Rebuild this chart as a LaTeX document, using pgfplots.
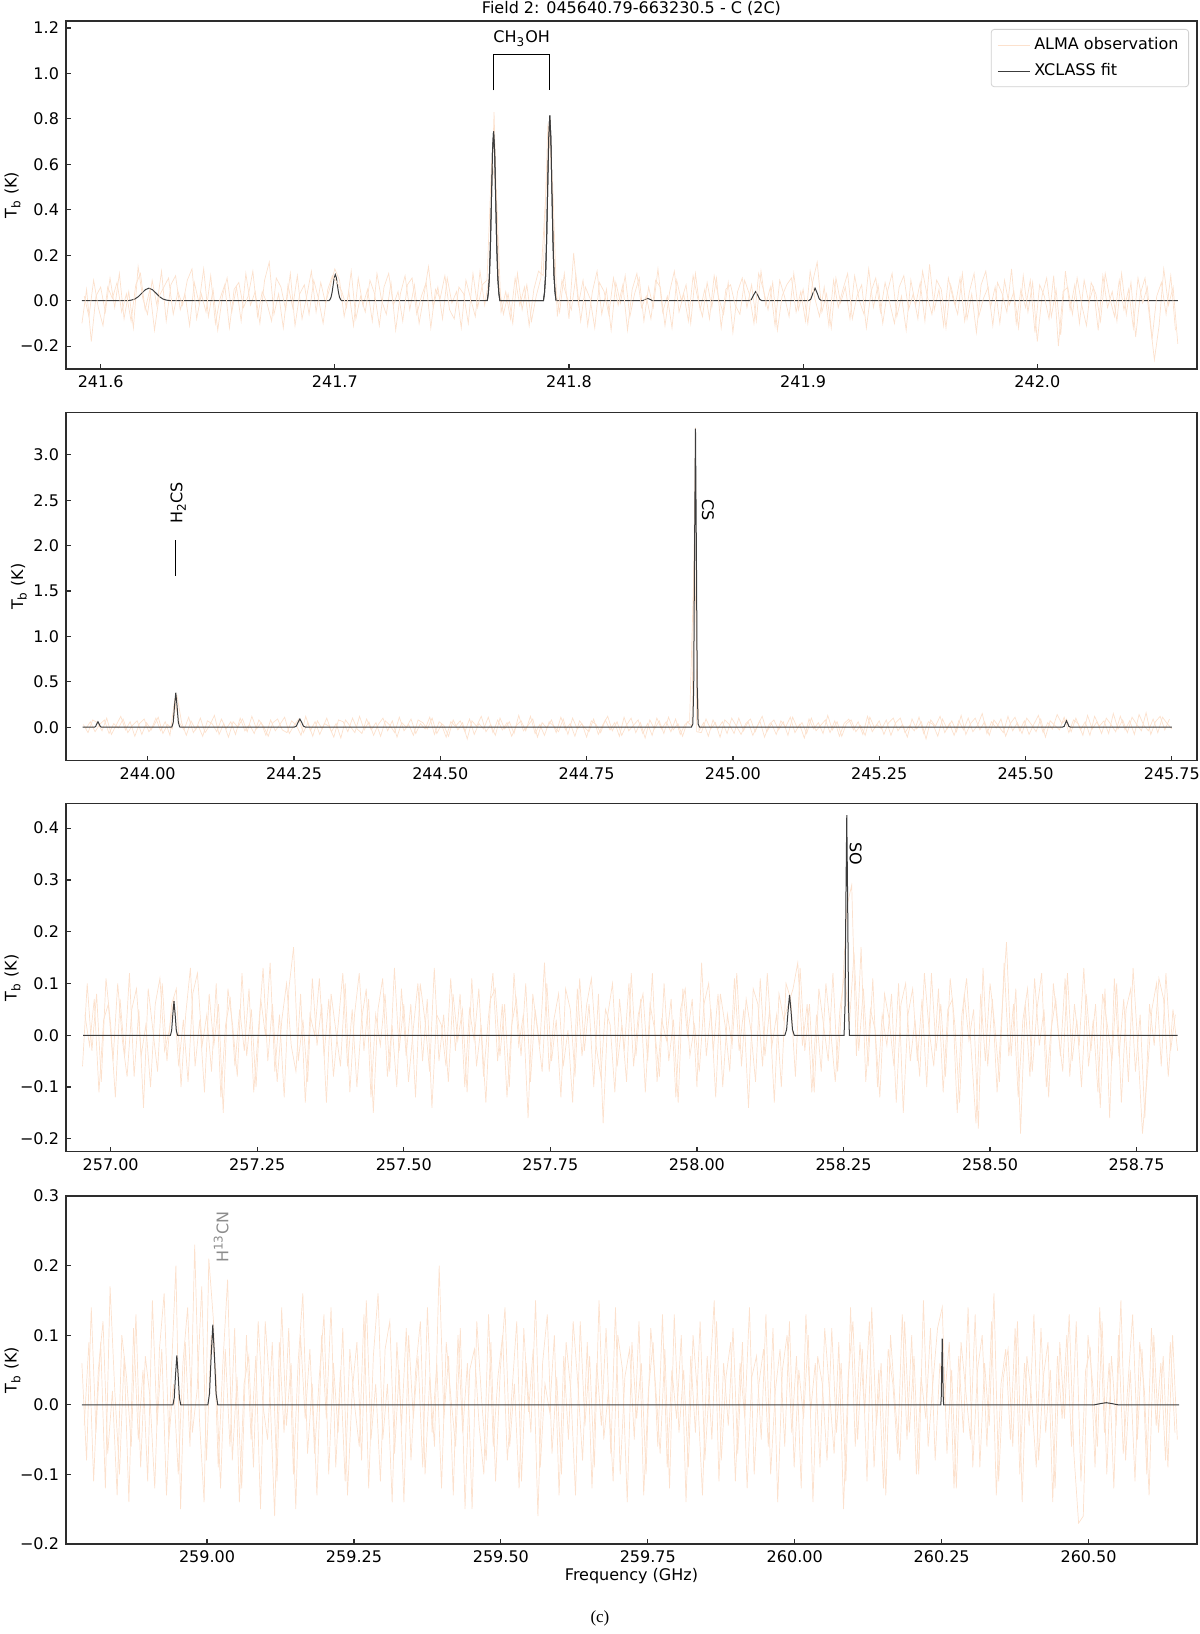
\documentclass[border=0pt]{standalone}
\usepackage{pgfplots}
\pgfplotsset{compat=1.18}
\usepackage{fontspec}
\setmainfont{DejaVu Sans}
\newfontfamily\capfont{Liberation Serif}
\definecolor{obs}{RGB}{252,225,205}
\definecolor{fitc}{RGB}{60,60,60}
\definecolor{axc}{RGB}{45,45,45}
\newcommand{\fs}{\fontsize{8}{9.6}\selectfont}
\pgfplotsset{
  spec/.style={
    scale only axis, width=565.5pt, height=174pt,
    axis line style={axc, line width=0.6pt},
    tick align=inside, tick pos=left,
    major tick length=2.5pt,
    tick style={axc, line width=0.6pt},
    tick label style={font=\fs},
    label style={font=\fs},
    ylabel={T\textsubscript{b} (K)},
    ylabel style={at={(axis description cs:-0.0473,0.5)}, anchor=center},
    clip mode=individual,
  },
  obsline/.style={obs, line width=0.35pt},
  fitline/.style={fitc, line width=0.5pt},
}
\begin{document}
\begin{tikzpicture}
\path[use as bounding box] (0,0) rectangle (600pt,817pt);

% ---------------- Panel 1 ----------------
\begin{axis}[spec, at={(33pt,632.5pt)}, anchor=south west,
  xmin=-14.8, xmax=468.2, ymin=-0.3005, ymax=1.2308,
  xtick={0,100,200,300,400}, xticklabels={241.6,241.7,241.8,241.9,242.0},
  ytick={-0.2,0,0.2,0.4,0.6,0.8,1.0,1.2},
  yticklabels={−0.2,0.0,0.2,0.4,0.6,0.8,1.0,1.2},
  title={Field 2: 045640.79-663230.5 - C (2C)},
  every axis title/.style={at={(axis description cs:0.5,1.036)}, anchor=center, font=\fs},
  legend style={at={(axis description cs:1,1)}, anchor=north east, xshift=-4pt, yshift=-4pt,
    draw=black!18, rounded corners=1.5pt, font=\fs, inner xsep=3pt, inner ysep=2pt,
    row sep=1.5pt},
  legend cell align=left,
  legend image code/.code={\draw[#1] (0pt,0pt) -- (16pt,0pt);},
]
\addplot[obsline] table[row sep=\\] {x y\\
-8 -0.10\\ -6 0.05\\ -4 -0.18\\ -2 0.02\\ 0 0.06\\ 2 -0.05\\ 4 0.10\\ 6 -0.03\\ 8 0.12\\ 10 -0.08\\
12 0.04\\ 14 -0.12\\ 16 0.15\\ 18 0.01\\ 20 -0.06\\ 22 0.09\\ 24 -0.02\\ 26 0.13\\ 28 -0.09\\ 30 0.07\\
32 0.11\\ 34 -0.04\\ 36 0.03\\ 38 -0.11\\ 40 0.08\\ 42 -0.01\\ 44 0.14\\ 46 -0.07\\ 48 0.05\\ 50 -0.13\\
52 0.02\\ 54 0.10\\ 56 -0.05\\ 58 0.06\\ 60 -0.09\\ 62 0.12\\ 64 -0.02\\ 66 0.04\\ 68 -0.10\\ 70 0.09\\
72 0.17\\ 74 -0.06\\ 76 0.03\\ 78 -0.12\\ 80 0.07\\ 82 -0.03\\ 84 0.11\\ 86 -0.08\\ 88 0.02\\ 90 0.13\\
92 -0.05\\ 94 0.08\\ 96 -0.01\\ 98 0.06\\ 100 0.14\\ 102 0.09\\ 104 -0.07\\ 106 0.04\\ 108 -0.11\\ 110 0.10\\
112 -0.02\\ 114 0.05\\ 116 -0.09\\ 118 0.12\\ 120 0.00\\ 122 -0.06\\ 124 0.08\\ 126 -0.13\\ 128 0.03\\ 130 0.11\\
132 -0.04\\ 134 0.07\\ 136 -0.10\\ 138 0.02\\ 140 0.15\\ 142 -0.03\\ 144 0.06\\ 146 -0.08\\ 148 0.10\\ 150 -0.01\\
152 0.04\\ 154 -0.12\\ 156 0.09\\ 158 0.01\\ 160 -0.07\\ 162 0.13\\ 164 -0.02\\ 166 0.11\\ 168 0.83\\ 170 0.08\\
172 -0.06\\ 174 0.03\\ 176 -0.10\\ 178 0.12\\ 180 -0.04\\ 182 0.07\\ 184 -0.09\\ 186 0.02\\ 188 0.10\\ 190 0.45\\
192 0.80\\ 194 0.06\\ 196 -0.05\\ 198 0.12\\ 200 -0.08\\ 202 0.21\\ 204 -0.02\\ 206 0.09\\ 208 -0.11\\ 210 0.04\\
212 0.13\\ 214 -0.06\\ 216 0.05\\ 218 -0.13\\ 220 0.08\\ 222 -0.01\\ 224 0.11\\ 226 -0.07\\ 228 0.03\\ 230 0.10\\
232 -0.09\\ 234 0.06\\ 236 -0.03\\ 238 0.14\\ 240 -0.05\\ 242 0.02\\ 244 -0.12\\ 246 0.09\\ 248 0.00\\ 250 0.07\\
252 -0.10\\ 254 0.12\\ 256 -0.04\\ 258 0.05\\ 260 -0.08\\ 262 0.11\\ 264 0.01\\ 266 -0.06\\ 268 0.08\\ 270 -0.14\\
272 0.04\\ 274 0.10\\ 276 -0.03\\ 278 0.07\\ 280 -0.09\\ 282 0.13\\ 284 -0.02\\ 286 0.06\\ 288 -0.11\\ 290 0.09\\
292 0.02\\ 294 -0.07\\ 296 0.12\\ 298 -0.04\\ 300 0.05\\ 302 -0.10\\ 304 0.08\\ 306 0.17\\ 308 -0.05\\ 310 0.03\\
312 -0.12\\ 314 0.10\\ 316 -0.01\\ 318 0.06\\ 320 -0.08\\ 322 0.11\\ 324 0.00\\ 326 -0.06\\ 328 0.14\\ 330 -0.03\\
332 0.07\\ 334 -0.10\\ 336 0.04\\ 338 0.12\\ 340 -0.07\\ 342 0.02\\ 344 -0.13\\ 346 0.09\\ 348 -0.02\\ 350 0.08\\
352 -0.09\\ 354 0.16\\ 356 -0.04\\ 358 0.05\\ 360 -0.11\\ 362 0.10\\ 364 0.01\\ 366 -0.06\\ 368 0.12\\ 370 -0.08\\
372 0.03\\ 374 -0.14\\ 376 0.07\\ 378 0.13\\ 380 -0.03\\ 382 0.06\\ 384 -0.10\\ 386 0.09\\ 388 -0.02\\ 390 0.04\\
392 -0.12\\ 394 0.11\\ 396 -0.05\\ 398 0.08\\ 400 -0.18\\ 402 0.02\\ 404 0.10\\ 406 -0.07\\ 408 0.05\\ 410 -0.15\\
412 0.13\\ 414 -0.04\\ 416 0.07\\ 418 -0.10\\ 420 0.09\\ 422 -0.01\\ 424 0.06\\ 426 -0.13\\ 428 0.11\\ 430 -0.03\\
432 0.04\\ 434 -0.09\\ 436 0.12\\ 438 -0.06\\ 440 0.08\\ 442 -0.16\\ 444 0.03\\ 446 0.10\\ 448 -0.08\\ 450 -0.26\\
452 -0.11\\ 454 0.14\\ 456 -0.02\\ 458 0.06\\ 460 -0.19\\
};
\addlegendentry{ALMA observation}
\addplot[fitline] table[row sep=\\] {x y\\
-8 0\\ 11.6 0\\ 13.1 0.0024\\ 14.6 0.0074\\ 16.1 0.0179\\ 17.6 0.0334\\ 19.1 0.0485\\ 20.6 0.055\\ 22.1 0.0485\\ 23.6 0.0334\\ 25.1 0.0179\\ 26.6 0.0074\\ 28.1 0.0024\\ 29.6 0.0006\\ 32 0\\
97.5 0\\ 97.95 0.0051\\ 98.4 0.0155\\ 98.85 0.0374\\ 99.3 0.0698\\ 99.75 0.1014\\ 100.2 0.115\\ 100.65 0.1014\\ 101.1 0.0698\\ 101.55 0.0374\\ 102.0 0.0155\\ 102.45 0.0051\\ 102.9 0\\
165.1 0\\ 165.55 0.0328\\ 166.0 0.1006\\ 166.45 0.2421\\ 166.9 0.4522\\ 167.35 0.6571\\ 167.8 0.745\\ 168.25 0.6571\\ 168.7 0.4522\\ 169.15 0.2421\\ 169.6 0.1006\\ 170.05 0.0328\\ 170.5 0\\
189.1 0\\ 189.55 0.0359\\ 190.0 0.1100\\ 190.45 0.2649\\ 190.9 0.4947\\ 191.35 0.7188\\ 191.8 0.815\\ 192.25 0.7188\\ 192.7 0.4947\\ 193.15 0.2649\\ 193.6 0.1100\\ 194.05 0.0359\\ 194.5 0\\
231.6 0\\ 232.6 0.006\\ 233.6 0.010\\ 234.6 0.006\\ 235.6 0\\
277.0 0\\ 277.9 0.0054\\ 278.8 0.0243\\ 279.7 0.040\\ 280.6 0.0243\\ 281.5 0.0054\\ 282.4 0\\
302.4 0\\ 303.3 0.0074\\ 304.2 0.0334\\ 305.1 0.055\\ 306.0 0.0334\\ 306.9 0.0074\\ 307.8 0\\
460 0\\
};
\addlegendentry{XCLASS fit}
\addplot[obsline, forget plot] table[row sep=\\] {x y\\
-7 0.02\\ -5 -0.07\\ -3 0.09\\ -1 -0.03\\ 1 -0.11\\ 3 0.06\\ 5 0.01\\ 7 0.08\\ 9 -0.05\\ 11 0.03\\
13 -0.09\\ 15 0.07\\ 17 0.12\\ 19 -0.04\\ 21 0.05\\ 23 -0.13\\ 25 0.02\\ 27 0.06\\ 29 0.10\\ 31 -0.06\\
33 0.04\\ 35 -0.02\\ 37 0.09\\ 39 0.14\\ 41 -0.08\\ 43 0.03\\ 45 -0.05\\ 47 0.11\\ 49 -0.10\\ 51 0.01\\
53 0.07\\ 55 -0.12\\ 57 0.05\\ 59 0.08\\ 61 -0.03\\ 63 0.02\\ 65 0.13\\ 67 -0.07\\ 69 0.04\\ 71 -0.01\\
73 -0.09\\ 75 0.10\\ 77 0.06\\ 79 -0.04\\ 81 0.12\\ 83 -0.11\\ 85 0.03\\ 87 0.07\\ 89 -0.06\\ 91 0.09\\
93 0.01\\ 95 -0.10\\ 97 0.05\\ 99 0.11\\ 101 0.08\\ 103 0.04\\ 105 -0.03\\ 107 0.13\\ 109 -0.08\\ 111 0.02\\
113 -0.05\\ 115 0.09\\ 117 0.03\\ 119 -0.11\\ 121 0.06\\ 123 0.12\\ 125 -0.02\\ 127 0.04\\ 129 -0.09\\ 131 0.07\\
133 0.10\\ 135 -0.06\\ 137 0.02\\ 139 0.08\\ 141 -0.12\\ 143 0.05\\ 145 0.01\\ 147 0.11\\ 149 -0.04\\ 151 -0.08\\
153 0.06\\ 155 0.03\\ 157 -0.10\\ 159 0.12\\ 161 -0.03\\ 163 0.07\\ 165 0.09\\ 167 0.62\\ 169 0.48\\ 171 -0.05\\
173 0.04\\ 175 -0.08\\ 177 0.10\\ 179 -0.02\\ 181 0.06\\ 183 -0.11\\ 185 0.05\\ 187 0.13\\ 189 0.11\\ 191 0.78\\
193 0.52\\ 195 -0.07\\ 197 0.09\\ 199 0.02\\ 201 -0.04\\ 203 0.11\\ 205 -0.09\\ 207 0.06\\ 209 0.01\\ 211 -0.12\\
213 0.08\\ 215 0.04\\ 217 -0.06\\ 219 0.10\\ 221 -0.02\\ 223 0.07\\ 225 -0.13\\ 227 0.05\\ 229 0.12\\ 231 -0.03\\
233 0.02\\ 235 -0.08\\ 237 0.09\\ 239 0.06\\ 241 -0.11\\ 243 0.04\\ 245 0.13\\ 247 -0.05\\ 249 0.03\\ 251 -0.09\\
253 0.11\\ 255 0.01\\ 257 -0.07\\ 259 0.08\\ 261 -0.03\\ 263 0.10\\ 265 -0.12\\ 267 0.05\\ 269 0.07\\ 271 -0.02\\
273 -0.06\\ 275 0.09\\ 277 0.03\\ 279 -0.10\\ 281 0.12\\ 283 0.05\\ 285 -0.04\\ 287 0.08\\ 289 -0.13\\ 291 0.02\\
293 0.07\\ 295 0.10\\ 297 -0.05\\ 299 0.04\\ 301 -0.09\\ 303 0.13\\ 305 0.01\\ 307 -0.07\\ 309 0.06\\ 311 -0.11\\
313 0.09\\ 315 -0.03\\ 317 0.05\\ 319 0.12\\ 321 -0.08\\ 323 0.02\\ 325 0.07\\ 327 -0.12\\ 329 0.04\\ 331 0.10\\
333 -0.05\\ 335 0.08\\ 337 -0.01\\ 339 -0.10\\ 341 0.06\\ 343 0.11\\ 345 -0.04\\ 347 0.03\\ 349 -0.08\\ 351 0.13\\
353 0.02\\ 355 -0.06\\ 357 0.09\\ 359 0.05\\ 361 -0.12\\ 363 0.07\\ 365 -0.02\\ 367 0.10\\ 369 -0.09\\ 371 0.04\\
373 0.12\\ 375 -0.07\\ 377 0.01\\ 379 0.06\\ 381 -0.11\\ 383 0.08\\ 385 0.03\\ 387 -0.05\\ 389 0.14\\ 391 -0.10\\
393 0.05\\ 395 -0.03\\ 397 0.09\\ 399 -0.14\\ 401 0.07\\ 403 0.02\\ 405 -0.08\\ 407 0.11\\ 409 -0.20\\ 411 0.04\\
413 0.06\\ 415 -0.06\\ 417 0.10\\ 419 -0.02\\ 421 -0.11\\ 423 0.08\\ 425 0.03\\ 427 -0.09\\ 429 0.12\\ 431 0.01\\
433 -0.07\\ 435 0.09\\ 437 -0.04\\ 439 0.05\\ 441 -0.12\\ 443 0.10\\ 445 -0.01\\ 447 0.06\\ 449 -0.17\\ 451 0.02\\
453 0.08\\ 455 -0.06\\ 457 0.11\\ 459 -0.13\\
};
\addplot[fitline, forget plot] table[row sep=\\] {x y\\
165.1 0\\ 165.55 0.0328\\ 166.0 0.1006\\ 166.45 0.2421\\ 166.9 0.4522\\ 167.35 0.6571\\ 167.8 0.745\\ 168.25 0.6571\\ 168.7 0.4522\\ 169.15 0.2421\\ 169.6 0.1006\\ 170.05 0.0328\\ 170.5 0\\
189.1 0\\ 189.55 0.0359\\ 190.0 0.1100\\ 190.45 0.2649\\ 190.9 0.4947\\ 191.35 0.7188\\ 191.8 0.815\\ 192.25 0.7188\\ 192.7 0.4947\\ 193.15 0.2649\\ 193.6 0.1100\\ 194.05 0.0359\\ 194.5 0\\
};
\addplot[black, line width=0.5pt, forget plot] coordinates {(167.8,0.925) (167.8,1.082) (191.8,1.082) (191.8,0.925)};
\node[font=\fs, anchor=center] at (axis cs:179.8,1.153) {CH\textsubscript{3}OH};
\end{axis}

% ---------------- Panel 2 ----------------
\begin{axis}[spec, at={(33pt,436.7pt)}, anchor=south west,
  xmin=-139.6, xmax=1793, ymin=-0.368, ymax=3.466,
  xtick={0,250,500,750,1000,1250,1500,1750},
  xticklabels={244.00,244.25,244.50,244.75,245.00,245.25,245.50,245.75},
  ytick={0,0.5,1,1.5,2,2.5,3},
  yticklabels={0.0,0.5,1.0,1.5,2.0,2.5,3.0},
  ylabel style={at={(axis description cs:-0.0417,0.5)}, anchor=center},
]
\addplot[obsline] table[row sep=\\] {x y\\
-110 0.03\\ -102 -0.06\\ -94 0.08\\ -86 0.05\\ -78 -0.04\\ -70 0.10\\ -62 -0.08\\ -54 0.02\\ -46 0.12\\ -38 -0.03\\
-30 0.06\\ -22 -0.10\\ -14 0.04\\ -6 0.09\\ 2 -0.05\\ 10 0.01\\ 18 0.11\\ 26 -0.07\\ 34 0.03\\ 42 -0.02\\
50 0.35\\ 58 0.05\\ 66 -0.09\\ 74 0.07\\ 82 -0.03\\ 90 0.10\\ 98 -0.06\\ 106 0.02\\ 114 0.13\\ 122 -0.08\\
130 0.04\\ 138 -0.11\\ 146 0.06\\ 154 0.00\\ 162 0.09\\ 170 -0.05\\ 178 0.12\\ 186 -0.02\\ 194 0.05\\ 202 -0.09\\
210 0.08\\ 218 -0.04\\ 226 0.03\\ 234 0.11\\ 242 -0.07\\ 250 0.02\\ 258 0.09\\ 266 -0.06\\ 274 0.05\\ 282 -0.10\\
290 0.07\\ 298 -0.02\\ 306 0.10\\ 314 -0.05\\ 322 0.04\\ 330 -0.12\\ 338 0.08\\ 346 0.01\\ 354 -0.06\\ 362 0.12\\
370 -0.03\\ 378 0.06\\ 386 -0.09\\ 394 0.03\\ 402 0.10\\ 410 -0.04\\ 418 0.07\\ 426 -0.11\\ 434 0.05\\ 442 0.00\\
450 0.09\\ 458 -0.07\\ 466 0.04\\ 474 -0.02\\ 482 0.11\\ 490 -0.08\\ 498 0.06\\ 506 0.02\\ 514 -0.10\\ 522 0.08\\
530 -0.03\\ 538 0.05\\ 546 -0.13\\ 554 0.07\\ 562 0.01\\ 570 0.12\\ 578 -0.05\\ 586 0.03\\ 594 -0.09\\ 602 0.10\\
610 -0.02\\ 618 0.06\\ 626 -0.07\\ 634 0.13\\ 642 -0.04\\ 650 0.02\\ 658 0.09\\ 666 -0.11\\ 674 0.05\\ 682 -0.01\\
690 0.08\\ 698 -0.06\\ 706 0.11\\ 714 -0.03\\ 722 0.04\\ 730 -0.10\\ 738 0.07\\ 746 0.00\\ 754 -0.05\\ 762 0.09\\
770 -0.08\\ 778 0.03\\ 786 0.12\\ 794 -0.04\\ 802 0.06\\ 810 -0.09\\ 818 0.02\\ 826 0.10\\ 834 -0.06\\ 842 0.05\\
850 -0.12\\ 858 0.08\\ 866 -0.02\\ 874 0.07\\ 882 -0.07\\ 890 0.11\\ 898 -0.03\\ 906 0.04\\ 914 -0.10\\ 922 0.06\\
930 0.01\\ 936 3.30\\ 938 -0.05\\ 946 -0.06\\ 954 0.09\\ 962 -0.02\\ 970 0.05\\ 978 -0.11\\ 986 0.08\\ 994 0.03\\ 1002 -0.07\\
1010 0.10\\ 1018 -0.04\\ 1026 0.06\\ 1034 -0.09\\ 1042 0.02\\ 1050 0.12\\ 1058 -0.05\\ 1066 0.04\\ 1074 -0.08\\ 1082 0.07\\
1090 0.00\\ 1098 0.11\\ 1106 -0.06\\ 1114 0.03\\ 1122 -0.12\\ 1130 0.09\\ 1138 -0.02\\ 1146 0.05\\ 1154 -0.07\\ 1162 0.13\\
1170 -0.03\\ 1178 0.06\\ 1186 -0.10\\ 1194 0.04\\ 1202 0.08\\ 1210 -0.05\\ 1218 0.02\\ 1226 -0.09\\ 1234 0.11\\ 1242 -0.01\\
1250 0.07\\ 1258 -0.08\\ 1266 0.05\\ 1274 0.10\\ 1282 -0.04\\ 1290 0.03\\ 1298 -0.11\\ 1306 0.09\\ 1314 -0.02\\ 1322 0.06\\
1330 -0.13\\ 1338 0.08\\ 1346 0.01\\ 1354 0.12\\ 1362 -0.06\\ 1370 0.04\\ 1378 -0.09\\ 1386 0.07\\ 1394 -0.03\\ 1402 0.10\\
1410 -0.05\\ 1418 0.02\\ 1426 0.15\\ 1434 -0.07\\ 1442 0.06\\ 1450 -0.01\\ 1458 0.09\\ 1466 -0.10\\ 1474 0.04\\ 1482 0.11\\
1490 -0.04\\ 1498 0.07\\ 1506 -0.08\\ 1514 0.03\\ 1522 0.13\\ 1530 -0.06\\ 1538 0.05\\ 1546 -0.02\\ 1554 0.14\\ 1562 0.04\\
1570 0.09\\ 1578 -0.05\\ 1586 0.10\\ 1594 -0.03\\ 1602 0.06\\ 1610 -0.09\\ 1618 0.12\\ 1626 0.01\\ 1634 0.07\\ 1642 -0.07\\
1650 0.15\\ 1658 -0.02\\ 1666 0.08\\ 1674 -0.06\\ 1682 0.11\\ 1690 0.03\\ 1698 -0.04\\ 1706 0.16\\ 1714 -0.08\\ 1722 0.06\\
1730 0.12\\ 1738 -0.03\\ 1746 0.09\\
};
\addplot[obsline] table[row sep=\\] {x y\\
-106 -0.02\\ -98 0.06\\ -90 -0.05\\ -82 0.03\\ -74 0.08\\ -66 -0.07\\ -58 0.04\\ -50 -0.01\\ -42 0.09\\ -34 -0.06\\
-26 0.02\\ -18 0.07\\ -10 -0.08\\ -2 0.05\\ 6 -0.03\\ 14 0.10\\ 22 -0.04\\ 30 0.06\\ 38 -0.09\\ 46 0.30\\
54 0.05\\ 62 -0.03\\ 70 0.11\\ 78 -0.06\\ 86 0.02\\ 94 -0.10\\ 102 0.07\\ 110 0.04\\ 118 -0.05\\ 126 0.09\\
134 -0.02\\ 142 0.06\\ 150 -0.08\\ 158 0.10\\ 166 -0.04\\ 174 0.03\\ 182 -0.07\\ 190 0.08\\ 198 0.01\\ 206 -0.10\\
214 0.05\\ 222 0.09\\ 230 -0.03\\ 238 -0.06\\ 246 0.07\\ 254 0.02\\ 262 -0.09\\ 270 0.12\\ 278 -0.04\\ 286 0.06\\
294 -0.08\\ 302 0.04\\ 310 0.01\\ 318 -0.11\\ 326 0.08\\ 334 0.06\\ 342 -0.05\\ 350 0.10\\ 358 -0.02\\ 366 -0.07\\
374 0.09\\ 382 -0.03\\ 390 0.05\\ 398 -0.10\\ 406 0.07\\ 414 0.02\\ 422 -0.06\\ 430 0.11\\ 438 -0.04\\ 446 0.03\\
454 -0.09\\ 462 0.08\\ 470 0.05\\ 478 -0.02\\ 486 0.10\\ 494 -0.07\\ 502 0.03\\ 510 -0.11\\ 518 0.06\\ 526 0.01\\
534 0.07\\ 542 -0.05\\ 550 0.09\\ 558 -0.08\\ 566 0.04\\ 574 -0.02\\ 582 0.11\\ 590 -0.06\\ 598 0.08\\ 606 -0.03\\
614 0.05\\ 622 -0.10\\ 630 0.02\\ 638 0.07\\ 646 -0.04\\ 654 0.12\\ 662 -0.07\\ 670 0.03\\ 678 -0.09\\ 686 0.06\\
694 0.01\\ 702 -0.05\\ 710 0.09\\ 718 -0.08\\ 726 0.10\\ 734 -0.02\\ 742 0.04\\ 750 -0.11\\ 758 0.07\\ 766 0.03\\
774 -0.06\\ 782 0.08\\ 790 -0.03\\ 798 0.05\\ 806 -0.10\\ 814 0.11\\ 822 -0.04\\ 830 0.02\\ 838 0.08\\ 846 -0.07\\
854 0.04\\ 862 -0.09\\ 870 0.10\\ 878 -0.02\\ 886 0.06\\ 894 -0.05\\ 902 0.09\\ 910 -0.08\\ 918 0.03\\ 926 0.07\\
934 1.90\\ 942 -0.04\\ 950 0.05\\ 958 -0.10\\ 966 0.08\\ 974 -0.02\\ 982 0.06\\ 990 -0.07\\ 998 0.10\\ 1006 0.01\\
1014 -0.08\\ 1022 0.04\\ 1030 0.09\\ 1038 -0.05\\ 1046 0.07\\ 1054 -0.11\\ 1062 0.03\\ 1070 0.08\\ 1078 -0.03\\ 1086 0.06\\
1094 -0.09\\ 1102 0.11\\ 1110 -0.01\\ 1118 0.05\\ 1126 -0.07\\ 1134 0.10\\ 1142 -0.04\\ 1150 0.02\\ 1158 0.08\\ 1166 -0.06\\
1174 0.07\\ 1182 -0.10\\ 1190 0.04\\ 1198 0.09\\ 1206 -0.03\\ 1214 0.06\\ 1222 -0.08\\ 1230 0.12\\ 1238 -0.05\\ 1246 0.03\\
1254 -0.02\\ 1262 0.08\\ 1270 -0.09\\ 1278 0.05\\ 1286 0.10\\ 1294 -0.06\\ 1302 0.02\\ 1310 -0.04\\ 1318 0.11\\ 1326 -0.07\\
1334 0.06\\ 1342 0.03\\ 1350 -0.10\\ 1358 0.09\\ 1366 -0.02\\ 1374 0.07\\ 1382 -0.05\\ 1390 0.13\\ 1398 -0.08\\ 1406 0.04\\
1414 0.10\\ 1422 -0.03\\ 1430 0.06\\ 1438 -0.09\\ 1446 0.08\\ 1454 0.01\\ 1462 -0.06\\ 1470 0.12\\ 1478 -0.04\\ 1486 0.05\\
1494 -0.07\\ 1502 0.10\\ 1510 0.03\\ 1518 -0.05\\ 1526 0.09\\ 1534 -0.11\\ 1542 0.07\\ 1550 0.02\\ 1558 -0.03\\ 1566 0.11\\
1574 -0.06\\ 1582 0.08\\ 1590 0.04\\ 1598 -0.09\\ 1606 0.13\\ 1614 -0.02\\ 1622 0.06\\ 1630 -0.07\\ 1638 0.10\\ 1646 0.03\\
1654 -0.05\\ 1662 0.12\\ 1670 -0.03\\ 1678 0.07\\ 1686 -0.08\\ 1694 0.14\\ 1702 0.02\\ 1710 -0.04\\ 1718 0.09\\ 1726 -0.06\\
1734 0.11\\ 1742 0.04\\ 1750 -0.02\\
};
\addplot[fitline] table[row sep=\\] {x y\\
-111 0\\ -91 0\\ -89 0.008\\ -87 0.036\\ -85 0.06\\ -83 0.036\\ -81 0.008\\ -79 0\\
40 0\\ 41.4 0.004\\ 43.6 0.051\\ 45.8 0.231\\ 48 0.38\\ 50.2 0.231\\ 52.4 0.051\\ 54.6 0.004\\ 56 0\\
250 0\\ 254 0.012\\ 257 0.055\\ 260 0.09\\ 263 0.055\\ 266 0.012\\ 270 0\\
929 0\\ 931.5 0.036\\ 933 0.445\\ 934.5 1.997\\ 936 3.29\\ 937.5 1.997\\ 939 0.445\\ 940.5 0.036\\ 943 0\\
1563 0\\ 1566 0.009\\ 1568 0.042\\ 1570 0.07\\ 1572 0.042\\ 1574 0.009\\ 1577 0\\
1750 0\\
};
\addplot[black, line width=0.5pt, forget plot] coordinates {(48,1.67) (48,2.06)};
\node[font=\fs, rotate=90, anchor=center] at (axis cs:52,2.47) {H\textsubscript{2}CS};
\node[font=\fs, rotate=-90, anchor=center] at (axis cs:957.5,2.39) {CS};
\end{axis}

% ---------------- Panel 3 ----------------
\begin{axis}[spec, at={(33pt,241.1pt)}, anchor=south west,
  xmin=-76.2, xmax=1853, ymin=-0.225, ymax=0.447,
  xtick={0,250,500,750,1000,1250,1500,1750},
  xticklabels={257.00,257.25,257.50,257.75,258.00,258.25,258.50,258.75},
  ytick={-0.2,-0.1,0,0.1,0.2,0.3,0.4},
  yticklabels={−0.2,−0.1,0.0,0.1,0.2,0.3,0.4},
]
\addplot[obsline] table[row sep=\\] {x y\\
-48 -0.06\\ -40 0.10\\ -32 -0.03\\ -24 0.08\\ -16 -0.09\\ -8 0.11\\ 0 0.02\\ 8 -0.12\\ 16 0.07\\ 24 -0.04\\
32 0.12\\ 40 -0.08\\ 48 0.05\\ 56 -0.14\\ 64 0.09\\ 72 0.01\\ 80 -0.07\\ 88 0.10\\ 96 -0.05\\ 104 0.06\\
112 0.09\\ 120 -0.10\\ 128 0.04\\ 136 0.13\\ 144 -0.06\\ 152 0.03\\ 160 -0.11\\ 168 0.08\\ 176 -0.02\\ 184 0.06\\
192 -0.15\\ 200 0.09\\ 208 0.02\\ 216 -0.08\\ 224 0.12\\ 232 -0.04\\ 240 0.05\\ 248 -0.10\\ 256 0.07\\ 264 0.00\\
272 0.14\\ 280 -0.07\\ 288 0.04\\ 296 -0.12\\ 304 0.09\\ 312 0.17\\ 320 -0.05\\ 328 0.03\\ 336 -0.09\\ 344 0.11\\
352 -0.02\\ 360 0.06\\ 368 -0.13\\ 376 0.08\\ 384 0.01\\ 392 -0.06\\ 400 0.10\\ 408 -0.11\\ 416 0.04\\ 424 0.12\\
432 -0.03\\ 440 0.07\\ 448 -0.15\\ 456 0.05\\ 464 0.11\\ 472 -0.08\\ 480 0.02\\ 488 -0.10\\ 496 0.09\\ 504 -0.04\\
512 0.06\\ 520 -0.12\\ 528 0.10\\ 536 0.03\\ 544 -0.07\\ 552 0.13\\ 560 -0.05\\ 568 0.04\\ 576 -0.09\\ 584 0.08\\
592 -0.01\\ 600 0.05\\ 608 -0.11\\ 616 0.11\\ 624 -0.06\\ 632 0.02\\ 640 -0.13\\ 648 0.07\\ 656 0.09\\ 664 -0.04\\
672 0.06\\ 680 -0.10\\ 688 0.12\\ 696 -0.02\\ 704 0.04\\ 712 -0.16\\ 720 0.08\\ 728 0.01\\ 736 -0.07\\ 744 0.10\\
752 -0.05\\ 760 0.03\\ 768 -0.12\\ 776 0.09\\ 784 0.05\\ 792 -0.08\\ 800 0.11\\ 808 -0.03\\ 816 0.06\\ 824 -0.10\\
832 0.08\\ 840 -0.17\\ 848 0.04\\ 856 0.10\\ 864 -0.06\\ 872 0.02\\ 880 -0.09\\ 888 0.12\\ 896 -0.04\\ 904 0.07\\
912 -0.11\\ 920 0.06\\ 928 0.01\\ 936 -0.08\\ 944 0.10\\ 952 -0.05\\ 960 0.03\\ 968 -0.13\\ 976 0.09\\ 984 0.00\\
992 0.07\\ 1000 -0.10\\ 1008 0.14\\ 1016 -0.04\\ 1024 0.05\\ 1032 -0.12\\ 1040 0.08\\ 1048 0.02\\ 1056 -0.07\\ 1064 0.11\\
1072 -0.03\\ 1080 0.05\\ 1088 -0.14\\ 1096 0.09\\ 1104 0.06\\ 1112 -0.06\\ 1120 0.12\\ 1128 -0.02\\ 1136 0.04\\ 1144 -0.10\\
1152 0.10\\ 1160 0.07\\ 1168 -0.08\\ 1176 0.13\\ 1184 -0.03\\ 1192 0.06\\ 1200 -0.11\\ 1208 0.09\\ 1216 0.02\\ 1224 -0.05\\
1232 0.12\\ 1240 -0.07\\ 1248 0.08\\ 1256 0.25\\ 1264 0.29\\ 1272 -0.04\\ 1280 0.17\\ 1288 -0.09\\ 1296 0.05\\ 1304 0.01\\
1312 -0.12\\ 1320 0.08\\ 1328 0.03\\ 1336 -0.06\\ 1344 0.10\\ 1352 -0.15\\ 1360 0.04\\ 1368 0.09\\ 1376 -0.05\\ 1384 0.07\\
1392 -0.10\\ 1400 0.12\\ 1408 -0.03\\ 1416 0.06\\ 1424 -0.08\\ 1432 0.11\\ 1440 0.02\\ 1448 -0.13\\ 1456 0.08\\ 1464 -0.01\\
1472 0.05\\ 1480 -0.18\\ 1488 0.13\\ 1496 -0.06\\ 1504 0.07\\ 1512 -0.11\\ 1520 0.04\\ 1528 0.18\\ 1536 -0.04\\ 1544 0.09\\
1552 -0.19\\ 1560 0.06\\ 1568 -0.08\\ 1576 0.11\\ 1584 -0.02\\ 1592 0.05\\ 1600 -0.12\\ 1608 0.10\\ 1616 0.01\\ 1624 -0.07\\
1632 0.12\\ 1640 -0.05\\ 1648 0.03\\ 1656 -0.10\\ 1664 0.08\\ 1672 -0.03\\ 1680 0.06\\ 1688 -0.14\\ 1696 0.09\\ 1704 -0.16\\
1712 0.11\\ 1720 -0.04\\ 1728 0.07\\ 1736 -0.09\\ 1744 0.13\\ 1752 -0.02\\ 1760 -0.19\\ 1768 -0.08\\ 1776 0.05\\ 1784 0.10\\
1792 -0.06\\ 1800 0.12\\ 1808 -0.03\\ 1816 0.04\\
};
\addplot[obsline] table[row sep=\\] {x y\\
-44 0.04\\ -36 -0.02\\ -28 0.07\\ -20 -0.11\\ -12 0.03\\ -4 0.06\\ 4 -0.05\\ 12 0.10\\ 20 -0.01\\ 28 -0.08\\
36 0.05\\ 44 0.09\\ 52 -0.04\\ 60 0.02\\ 68 -0.10\\ 76 0.06\\ 84 0.11\\ 92 -0.03\\ 100 0.01\\ 108 0.07\\
116 -0.06\\ 124 0.03\\ 132 -0.09\\ 140 0.08\\ 148 0.12\\ 156 -0.02\\ 164 0.04\\ 172 -0.07\\ 180 0.10\\ 188 -0.12\\
196 0.02\\ 204 0.07\\ 212 -0.06\\ 220 0.05\\ 228 -0.03\\ 236 0.09\\ 244 -0.11\\ 252 0.01\\ 260 0.13\\ 268 -0.05\\
276 0.06\\ 284 -0.09\\ 292 0.03\\ 300 0.10\\ 308 -0.02\\ 316 -0.07\\ 324 0.08\\ 332 -0.13\\ 340 0.04\\ 348 0.00\\
356 0.11\\ 364 -0.04\\ 372 0.07\\ 380 -0.08\\ 388 0.02\\ 396 0.12\\ 404 -0.06\\ 412 0.05\\ 420 -0.10\\ 428 0.03\\
436 0.09\\ 444 -0.12\\ 452 0.04\\ 460 -0.02\\ 468 0.08\\ 476 -0.07\\ 484 0.13\\ 492 -0.03\\ 500 0.06\\ 508 -0.09\\
516 0.01\\ 524 0.10\\ 532 -0.05\\ 540 0.07\\ 548 -0.14\\ 556 0.04\\ 564 0.02\\ 572 -0.06\\ 580 0.11\\ 588 -0.03\\
596 0.08\\ 604 -0.10\\ 612 0.05\\ 620 -0.01\\ 628 0.09\\ 636 -0.08\\ 644 0.03\\ 652 0.12\\ 660 -0.05\\ 668 0.06\\
676 -0.12\\ 684 0.02\\ 692 0.07\\ 700 -0.04\\ 708 0.10\\ 716 -0.09\\ 724 0.05\\ 732 -0.02\\ 740 0.14\\ 748 -0.07\\
756 0.03\\ 764 0.08\\ 772 -0.06\\ 780 0.01\\ 788 -0.13\\ 796 0.09\\ 804 -0.04\\ 812 0.06\\ 820 0.11\\ 828 -0.02\\
836 -0.08\\ 844 0.05\\ 852 0.02\\ 860 -0.11\\ 868 0.07\\ 876 -0.03\\ 884 0.10\\ 892 -0.06\\ 900 0.04\\ 908 0.08\\
916 -0.05\\ 924 0.12\\ 932 -0.09\\ 940 0.03\\ 948 -0.01\\ 956 0.07\\ 964 -0.12\\ 972 0.05\\ 980 0.09\\ 988 -0.04\\
996 0.02\\ 1004 -0.07\\ 1012 0.06\\ 1020 0.10\\ 1028 -0.03\\ 1036 0.08\\ 1044 -0.10\\ 1052 0.04\\ 1060 -0.02\\ 1068 0.12\\
1076 -0.06\\ 1084 0.07\\ 1092 0.01\\ 1100 -0.09\\ 1108 0.11\\ 1116 -0.04\\ 1124 0.05\\ 1132 -0.13\\ 1140 0.08\\ 1148 0.03\\
1156 0.06\\ 1164 0.09\\ 1172 0.14\\ 1180 -0.02\\ 1188 0.06\\ 1196 -0.11\\ 1204 0.04\\ 1212 -0.07\\ 1220 0.10\\ 1228 0.01\\
1236 -0.09\\ 1244 0.05\\ 1252 0.12\\ 1260 0.02\\ 1268 0.16\\ 1276 -0.03\\ 1284 0.09\\ 1292 -0.06\\ 1300 0.11\\ 1308 -0.10\\
1316 0.04\\ 1324 -0.02\\ 1332 0.08\\ 1340 -0.13\\ 1348 0.06\\ 1356 0.10\\ 1364 -0.05\\ 1372 0.03\\ 1380 -0.08\\ 1388 0.12\\
1396 0.01\\ 1404 -0.06\\ 1412 0.09\\ 1420 -0.11\\ 1428 0.05\\ 1436 0.07\\ 1444 -0.15\\ 1452 0.04\\ 1460 0.11\\ 1468 -0.03\\
1476 -0.17\\ 1484 0.08\\ 1492 -0.05\\ 1500 0.10\\ 1508 0.02\\ 1516 -0.09\\ 1524 0.14\\ 1532 -0.04\\ 1540 0.06\\ 1548 -0.12\\
1556 0.03\\ 1564 0.09\\ 1572 -0.07\\ 1580 0.05\\ 1588 0.12\\ 1596 -0.10\\ 1604 0.01\\ 1612 0.07\\ 1620 -0.04\\ 1628 0.11\\
1636 -0.08\\ 1644 0.06\\ 1652 -0.02\\ 1660 0.13\\ 1668 -0.06\\ 1676 0.03\\ 1684 -0.11\\ 1692 0.08\\ 1700 0.02\\ 1708 -0.05\\
1716 0.10\\ 1724 -0.13\\ 1732 0.05\\ 1740 0.09\\ 1748 -0.07\\ 1756 0.04\\ 1764 -0.16\\ 1772 0.06\\ 1780 -0.02\\ 1788 0.11\\
1796 0.07\\ 1804 -0.08\\ 1812 0.05\\ 1820 -0.03\\
};
\addplot[fitline] table[row sep=\\] {x y\\
-47 0\\ 102 0\\ 104 0.009\\ 106 0.040\\ 108 0.066\\ 110 0.040\\ 112 0.009\\ 114 0\\
1150 0\\ 1153 0.011\\ 1155.5 0.047\\ 1158 0.078\\ 1160.5 0.047\\ 1163 0.011\\ 1166 0\\
1251 0\\ 1252.6 0.057\\ 1254.1 0.258\\ 1255.6 0.425\\ 1257.1 0.258\\ 1258.6 0.057\\ 1260.1 0\\
1820 0\\
};
\node[font=\fs, rotate=-90, anchor=center] at (axis cs:1271,0.351) {SO};
\end{axis}

% ---------------- Panel 4 ----------------
\begin{axis}[spec, at={(33pt,45pt)}, anchor=south west,
  xmin=-240, xmax=1684.5, ymin=-0.2, ymax=0.3,
  xtick={0,250,500,750,1000,1250,1500},
  xticklabels={259.00,259.25,259.50,259.75,260.00,260.25,260.50},
  ytick={-0.2,-0.1,0,0.1,0.2,0.3},
  yticklabels={−0.2,−0.1,0.0,0.1,0.2,0.3},
  xlabel={Frequency (GHz)},
  xlabel style={at={(axis description cs:0.5,-0.092)}, anchor=center},
]
\addplot[obsline] table[row sep=\\] {x y\\
-213 0.06\\ -205 -0.08\\ -197 0.14\\ -189 -0.04\\ -181 0.09\\ -173 -0.12\\ -165 0.17\\ -157 0.02\\ -149 -0.10\\ -141 0.07\\
-133 -0.14\\ -125 0.11\\ -117 -0.05\\ -109 0.05\\ -101 -0.11\\ -93 0.15\\ -85 -0.03\\ -77 0.08\\ -69 -0.13\\ -61 0.04\\
-53 0.20\\ -45 -0.15\\ -37 0.09\\ -29 -0.06\\ -21 0.23\\ -13 -0.02\\ -5 -0.14\\ 3 0.21\\ 11 0.12\\ 19 -0.09\\
27 0.06\\ 35 0.18\\ 43 -0.08\\ 51 0.04\\ 59 -0.12\\ 67 0.10\\ 75 -0.05\\ 83 0.07\\ 91 -0.15\\ 99 0.12\\
107 0.02\\ 115 -0.16\\ 123 0.09\\ 131 -0.04\\ 139 0.11\\ 147 -0.10\\ 155 0.06\\ 163 0.16\\ 171 -0.07\\ 179 0.03\\
187 -0.13\\ 195 0.10\\ 203 -0.02\\ 211 0.14\\ 219 -0.09\\ 227 0.05\\ 235 -0.11\\ 243 0.08\\ 251 0.00\\ 259 -0.06\\
267 0.13\\ 275 -0.12\\ 283 0.07\\ 291 0.16\\ 299 -0.05\\ 307 0.03\\ 315 -0.14\\ 323 0.09\\ 331 -0.03\\ 339 0.11\\
347 -0.08\\ 355 0.05\\ 363 0.12\\ 371 -0.10\\ 379 0.04\\ 387 -0.06\\ 395 0.20\\ 403 -0.02\\ 411 0.07\\ 419 -0.13\\
427 0.10\\ 435 -0.04\\ 443 0.06\\ 451 -0.15\\ 459 0.12\\ 467 0.01\\ 475 -0.08\\ 483 0.09\\ 491 -0.11\\ 499 0.05\\
507 0.14\\ 515 -0.06\\ 523 0.03\\ 531 -0.12\\ 539 0.11\\ 547 -0.01\\ 555 0.08\\ 563 -0.16\\ 571 0.06\\ 579 0.13\\
587 -0.07\\ 595 0.04\\ 603 -0.10\\ 611 0.09\\ 619 0.02\\ 627 -0.13\\ 635 0.12\\ 643 -0.03\\ 651 0.07\\ 659 -0.09\\
667 0.15\\ 675 -0.05\\ 683 0.02\\ 691 -0.11\\ 699 0.10\\ 707 0.05\\ 715 -0.14\\ 723 0.09\\ 731 -0.02\\ 739 0.06\\
747 -0.10\\ 755 0.11\\ 763 0.03\\ 771 -0.07\\ 779 0.08\\ 787 -0.12\\ 795 0.13\\ 803 -0.04\\ 811 0.05\\ 819 -0.09\\
827 0.10\\ 835 0.01\\ 843 -0.13\\ 851 0.07\\ 859 -0.05\\ 867 0.12\\ 875 -0.08\\ 883 0.04\\ 891 0.09\\ 899 -0.11\\
907 0.06\\ 915 -0.02\\ 923 0.14\\ 931 -0.10\\ 939 0.03\\ 947 0.08\\ 955 -0.06\\ 963 0.11\\ 971 -0.14\\ 979 0.05\\
987 0.10\\ 995 -0.04\\ 1003 0.07\\ 1011 -0.12\\ 1019 0.13\\ 1027 -0.01\\ 1035 0.06\\ 1043 -0.09\\ 1051 0.11\\ 1059 0.02\\
1067 -0.07\\ 1075 0.09\\ 1083 -0.15\\ 1091 0.04\\ 1099 0.12\\ 1107 -0.05\\ 1115 0.08\\ 1123 -0.11\\ 1131 0.14\\ 1139 -0.03\\
1147 0.06\\ 1155 -0.13\\ 1163 0.10\\ 1171 0.00\\ 1179 -0.08\\ 1187 0.12\\ 1195 -0.04\\ 1203 0.07\\ 1211 -0.10\\ 1219 0.15\\
1227 -0.06\\ 1235 0.03\\ 1243 0.11\\ 1251 0.14\\ 1259 -0.07\\ 1267 0.05\\ 1275 -0.12\\ 1283 0.09\\ 1291 0.02\\ 1299 -0.05\\
1307 0.13\\ 1315 -0.09\\ 1323 0.06\\ 1331 -0.03\\ 1339 0.16\\ 1347 -0.11\\ 1355 0.04\\ 1363 0.08\\ 1371 -0.06\\ 1379 0.12\\
1387 -0.14\\ 1395 0.07\\ 1403 0.01\\ 1411 -0.09\\ 1419 0.11\\ 1427 -0.04\\ 1435 0.05\\ 1443 -0.12\\ 1451 0.09\\ 1459 -0.02\\
1467 0.13\\ 1475 -0.07\\ 1483 -0.17\\ 1491 -0.16\\ 1499 0.10\\ 1507 0.03\\ 1515 -0.06\\ 1523 0.12\\ 1531 -0.10\\ 1539 0.07\\
1547 -0.03\\ 1555 0.15\\ 1563 -0.08\\ 1571 0.05\\ 1579 -0.11\\ 1587 0.09\\ 1595 0.02\\ 1603 -0.13\\ 1611 0.10\\ 1619 -0.04\\
1627 0.07\\ 1635 -0.09\\ 1643 0.10\\ 1651 -0.05\\
};
\addplot[obsline] table[row sep=\\] {x y\\
-209 -0.03\\ -201 0.09\\ -193 -0.11\\ -185 0.05\\ -177 0.12\\ -169 -0.07\\ -161 0.02\\ -153 -0.13\\ -145 0.10\\ -137 0.04\\
-129 -0.06\\ -121 0.13\\ -113 -0.09\\ -105 0.07\\ -97 0.01\\ -89 -0.12\\ -81 0.08\\ -73 0.16\\ -65 -0.05\\ -57 0.03\\
-49 -0.10\\ -41 0.06\\ -33 0.14\\ -25 -0.04\\ -17 0.02\\ -9 0.17\\ -1 -0.08\\ 7 0.10\\ 15 0.05\\ 23 -0.12\\
31 0.08\\ 39 -0.06\\ 47 0.11\\ 55 -0.14\\ 63 0.03\\ 71 0.07\\ 79 -0.09\\ 87 0.12\\ 95 0.00\\ 103 -0.05\\
111 0.09\\ 119 -0.11\\ 127 0.14\\ 135 -0.03\\ 143 0.06\\ 151 -0.15\\ 159 0.10\\ 167 -0.02\\ 175 0.08\\ 183 -0.07\\
191 0.04\\ 199 0.13\\ 207 -0.10\\ 215 0.06\\ 223 -0.04\\ 231 0.11\\ 239 -0.13\\ 247 0.02\\ 255 0.09\\ 263 -0.08\\
271 0.15\\ 279 -0.05\\ 287 0.03\\ 295 -0.11\\ 303 0.08\\ 311 0.12\\ 319 -0.07\\ 327 0.05\\ 335 -0.14\\ 343 0.10\\
351 -0.02\\ 359 0.07\\ 367 -0.09\\ 375 0.14\\ 383 -0.04\\ 391 0.06\\ 399 -0.12\\ 407 0.09\\ 415 0.01\\ 423 -0.06\\
431 0.11\\ 439 -0.15\\ 447 0.05\\ 455 0.08\\ 463 -0.03\\ 471 -0.10\\ 479 0.13\\ 487 -0.06\\ 495 0.04\\ 503 0.10\\
511 -0.08\\ 519 0.02\\ 527 0.12\\ 535 -0.11\\ 543 0.06\\ 551 -0.04\\ 559 0.15\\ 567 -0.09\\ 575 0.03\\ 583 -0.01\\
591 0.10\\ 599 -0.13\\ 607 0.07\\ 615 -0.05\\ 623 0.12\\ 631 0.03\\ 639 -0.08\\ 647 0.09\\ 655 -0.12\\ 663 0.06\\
671 -0.03\\ 679 0.11\\ 687 -0.07\\ 695 0.14\\ 703 -0.10\\ 711 0.04\\ 719 0.08\\ 727 -0.05\\ 735 0.12\\ 743 -0.13\\
751 0.02\\ 759 0.09\\ 767 -0.06\\ 775 0.13\\ 783 -0.09\\ 791 0.05\\ 799 -0.02\\ 807 0.10\\ 815 -0.14\\ 823 0.07\\
831 -0.04\\ 839 0.12\\ 847 -0.08\\ 855 0.03\\ 863 0.15\\ 871 -0.11\\ 879 0.06\\ 887 -0.03\\ 895 0.11\\ 903 -0.07\\
911 0.09\\ 919 -0.12\\ 927 0.04\\ 935 0.07\\ 943 -0.05\\ 951 0.13\\ 959 -0.10\\ 967 0.02\\ 975 0.08\\ 983 -0.06\\
991 0.12\\ 999 -0.09\\ 1007 0.05\\ 1015 -0.02\\ 1023 0.10\\ 1031 -0.14\\ 1039 0.07\\ 1047 0.03\\ 1055 -0.08\\ 1063 0.11\\
1071 -0.04\\ 1079 0.06\\ 1087 -0.11\\ 1095 0.14\\ 1103 -0.06\\ 1111 0.09\\ 1119 -0.01\\ 1127 0.12\\ 1135 -0.09\\ 1143 0.05\\
1151 -0.12\\ 1159 0.08\\ 1167 0.03\\ 1175 -0.07\\ 1183 0.13\\ 1191 -0.05\\ 1199 0.10\\ 1207 -0.10\\ 1215 0.04\\ 1223 -0.02\\
1231 0.11\\ 1239 -0.08\\ 1247 0.06\\ 1255 0.01\\ 1263 0.09\\ 1271 -0.12\\ 1279 0.07\\ 1287 -0.04\\ 1295 0.14\\ 1303 -0.09\\
1311 0.05\\ 1319 0.10\\ 1327 -0.06\\ 1335 0.12\\ 1343 -0.13\\ 1351 0.03\\ 1359 0.08\\ 1367 -0.05\\ 1375 0.11\\ 1383 -0.10\\
1391 0.06\\ 1399 -0.03\\ 1407 0.13\\ 1415 -0.08\\ 1423 0.04\\ 1431 0.09\\ 1439 -0.14\\ 1447 0.07\\ 1455 -0.02\\ 1463 0.10\\
1471 -0.06\\ 1479 0.12\\ 1487 -0.11\\ 1495 0.05\\ 1503 0.08\\ 1511 -0.09\\ 1519 0.14\\ 1527 -0.04\\ 1535 0.06\\ 1543 -0.12\\
1551 0.10\\ 1559 -0.07\\ 1567 0.03\\ 1575 0.13\\ 1583 -0.05\\ 1591 0.08\\ 1599 -0.10\\ 1607 0.11\\ 1615 -0.03\\ 1623 0.06\\
1631 -0.08\\ 1639 0.09\\ 1647 -0.04\\
};
\addplot[fitline] table[row sep=\\] {x y\\
-213 0\\ -58 0\\ -55.8 0.010\\ -53.6 0.043\\ -51.4 0.071\\ -49.2 0.043\\ -47 0.010\\ -44.8 0\\
1.4 0\\ 4.2 0.016\\ 7.0 0.070\\ 9.8 0.115\\ 12.6 0.070\\ 15.4 0.016\\ 18.2 0\\
1248.6 0\\ 1249.4 0.013\\ 1250.2 0.058\\ 1251 0.095\\ 1251.8 0.058\\ 1252.6 0.013\\ 1253.4 0\\
1510 0\\ 1522 0.002\\ 1530 0.003\\ 1538 0.002\\ 1550 0\\ 1654 0\\
};
\node[font=\fs, rotate=90, anchor=center, text=black!45] at (axis cs:24,0.241) {H\textsuperscript{13}CN};
\node[font=\capfont\fontsize{8.5}{10}\selectfont, anchor=center] at (axis description cs:0.4721,-0.2126) {(c)};
\end{axis}
\end{tikzpicture}
\end{document}
